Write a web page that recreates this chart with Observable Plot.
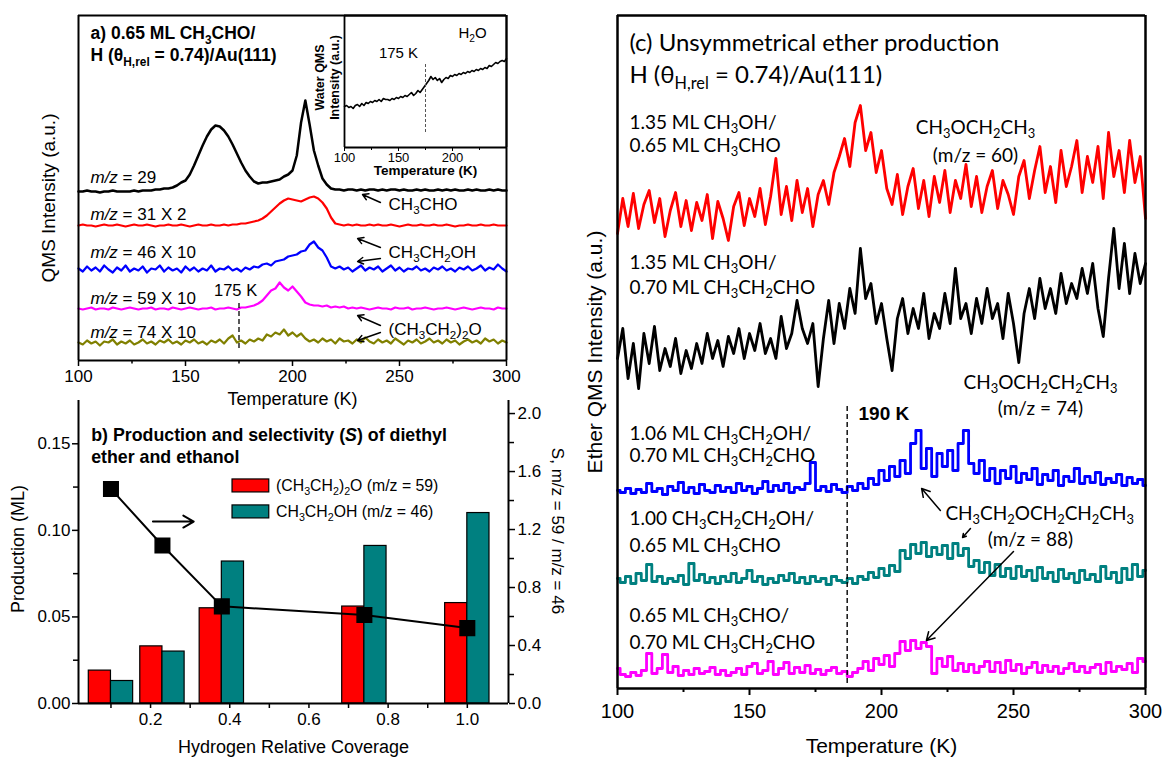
<!DOCTYPE html>
<html><head><meta charset="utf-8">
<script src="https://cdn.jsdelivr.net/npm/d3@7"></script>
<script src="https://cdn.jsdelivr.net/npm/@observablehq/plot@0.6"></script>
<style>
html,body{margin:0;padding:0;background:#fff}
#fig{position:relative;width:1163px;height:761px;overflow:hidden;background:#fff}
</style></head><body><div id="fig"></div>
<script>
// ---------------- DATA ----------------
// temperature sampling grid (K)
const T = d3.range(100, 301, 2);
const waterT = d3.range(100, 251, 2);

// Panel (a): TPD traces (a.u., stacked as drawn)
const a_m29 = [169,169,170,169,169,168,169,169,170,169, 169,169,169,170,169,170,170,170,171,171,
  172,172,173,175,178,180,186,195,205,215, 224,231,235,234,230,224,216,207,198,190,
  184,179,177,178,178,179,180,181,184,186, 190,205,238,260,236,210,195,182,176,172,
  171,171,170,171,171,170,171,170,171,171, 170,171,170,171,171,170,171,170,170,171,
  170,171,170,170,171,170,171,170,171,170, 170,171,170,171,170,170,171,170,171,170, 170];
const a_m31 = [135,136,135,135,134,135,136,135,135,136, 135,134,135,136,135,135,136,135,134,135,
  135,136,135,135,136,135,134,135,136,135, 135,136,135,135,136,135,136,136,137,137,
  138,139,140,142,145,149,153,157,160,162, 161,160,159,161,163,164,162,158,152,143,
  137,136,135,136,135,136,135,135,136,135, 136,135,135,136,135,134,135,136,135,135,
  136,135,135,136,135,135,136,135,134,135, 135,136,135,135,136,135,135,136,135,135, 135];
const a_m46 = [92,89,94,90,93,89,95,91,88,93, 90,95,89,92,90,94,88,92,91,95,
  89,93,90,92,88,94,90,93,89,92, 90,95,89,92,91,94,90,92,89,93,
  91,94,93,96,97,95,99,100,101,104, 105,106,109,110,116,119,113,110,103,94,
  92,94,91,93,89,92,95,90,93,91, 94,89,92,95,90,93,89,92,91,94,
  90,92,89,93,91,94,90,92,89,93, 91,94,90,92,95,90,93,91,96,92, 89];
const a_m59 = [52,51,52,53,51,52,52,51,53,52, 51,52,53,52,51,52,52,53,51,52,
  52,51,53,52,51,52,53,52,51,52, 52,53,51,52,52,53,52,51,53,53,
  54,55,57,60,65,70,72,78,73,70, 74,69,64,58,56,55,55,54,55,53,
  54,53,54,52,53,52,53,52,51,52, 53,52,52,51,53,52,52,53,51,52,
  52,53,52,51,52,52,53,52,51,52, 53,52,51,52,53,52,52,51,53,52, 52];
const a_m74 = [18,16,20,17,19,15,19,18,21,16, 19,17,20,16,18,21,17,19,16,20,
  18,21,17,19,16,20,18,21,17,19, 16,20,18,21,17,22,25,18,20,17,
  21,19,22,20,26,24,28,26,31,25, 28,24,27,22,19,21,18,22,19,21,
  17,22,19,20,17,21,18,23,19,17, 21,18,20,17,22,19,16,20,18,21,
  17,19,22,18,20,17,21,18,20,16, 19,21,18,20,17,22,19,21,17,20, 18];
// inset: water QMS signal
const water = [41,42,40,41,39,42,43,41,44,42, 45,44,46,45,47,46,48,46,49,48,
  48,47,49,48,50,49,51,50,52,51, 53,55,52,54,57,55,58,61,64,67,
  71,68,70,67,69,65,68,70,69,72, 71,73,72,74,73,75,74,76,75,77,
  76,78,77,79,78,80,79,82,81,83, 85,84,86,87,86,89];

// Panel (b): production and selectivity
const coverage   = [0.10, 0.23, 0.38, 0.74, 1.00];
const etherProd  = [0.019, 0.033, 0.055, 0.056, 0.058];
const ethanolProd= [0.013, 0.030, 0.082, 0.091, 0.110];
const selectivity= [1.48, 1.09, 0.67, 0.61, 0.52];

// Panel (c): ether QMS traces (a.u., stacked as drawn)
const c_m60 = [455,490,462,495,460,484,498,466,490,452, 478,496,462,488,458,486,468,494,450,487,
  470,448,482,496,463,490,472,500,464,492, 530,474,502,468,508,476,500,462,494,508,
  484,516,532,550,522,566,583,538,556,516, 538,500,484,514,474,502,520,480,508,472,
  512,486,518,476,508,490,524,482,512,476, 502,518,480,508,494,474,512,528,490,518,
  542,496,522,486,538,502,522,548,496,532, 506,542,490,556,512,538,496,548,506,532, 470];
const c_m74 = [330,360,310,345,300,355,325,362,318,340, 322,350,315,338,320,345,325,355,330,348,
  322,352,335,360,330,355,338,365,335,350, 330,372,340,355,388,360,345,365,302,350,
  388,345,385,360,400,375,440,390,405,365, 385,350,318,370,390,355,380,360,395,350,
  375,360,395,365,420,370,385,355,390,365, 400,370,385,350,395,365,326,375,400,370,
  410,380,400,375,415,385,405,390,420,395, 425,380,352,410,460,400,445,395,435,405, 425];
const c_m88a = [198,196,200,195,199,196,205,197,200,194, 202,198,206,196,201,195,204,198,196,203,
  197,201,196,205,198,202,195,200,207,197, 203,198,205,196,201,199,205,226,198,202,
  197,204,199,196,202,198,205,200,210,204, 218,208,222,212,228,215,245,258,220,240,
  212,235,222,238,218,245,258,225,215,228, 208,220,205,218,210,222,206,215,209,220,
  204,214,208,218,203,212,207,220,205,212, 206,216,204,210,206,214,203,211,205,209, 203];
const c_m88b = [110,106,112,105,115,108,124,107,112,105, 110,107,113,104,125,108,114,106,111,105,
  112,107,115,106,110,118,107,112,104,110, 106,113,108,115,106,111,105,112,107,110,
  104,112,108,106,110,105,112,109,116,111, 120,113,123,117,138,130,144,135,146,132,
  141,134,143,130,145,133,140,122,128,116, 126,113,124,112,120,110,122,112,118,108,
  121,110,116,107,119,110,115,106,118,109, 114,107,122,110,116,106,120,109,124,112, 118];
const c_m88c = [20,14,12,16,13,18,35,15,20,34, 16,22,13,18,14,20,15,17,21,14,
  18,13,16,20,14,22,25,15,18,27, 14,20,26,15,21,16,23,15,19,14,
  18,21,15,17,12,16,20,27,18,30, 24,33,22,35,47,38,48,40,46,42,
  15,30,22,32,18,25,17,24,16,22, 27,17,26,16,28,18,24,15,21,26,
  16,23,17,22,15,20,25,17,22,16, 21,24,15,26,17,22,19,25,16,30, 27];
const c_onsetT = 187; // dashed onset marker

// ---------------- HELPERS ----------------
const fig = document.getElementById("fig");
const pts = (xs, ys) => xs.map((x, i) => ({x, y: ys[i]})).filter(d => d.y != null);
const baseStyle = {fontFamily: "'Liberation Sans', Arial, Helvetica, sans-serif",
  background: "transparent", overflow: "visible", color: "#000"};
const NS = "http://www.w3.org/2000/svg";
function convert(el) {
  const s = el.textContent;
  if (!/_\{|\*/.test(s)) return;
  const fs = parseFloat(getComputedStyle(el).fontSize) || 16;
  el.textContent = "";
  const re = /_\{([^}]*)\}|\*([^*]+)\*|([^_*]+)/g;
  let m, shifted = false;
  while ((m = re.exec(s))) {
    const ts = document.createElementNS(NS, "tspan");
    if (m[1] !== undefined) {
      ts.textContent = m[1];
      ts.setAttribute("font-size", (fs * 0.68).toFixed(1));
      if (!shifted) { ts.setAttribute("dy", (fs * 0.25).toFixed(1)); shifted = true; }
    } else {
      ts.textContent = m[2] !== undefined ? m[2] : m[3];
      if (m[2] !== undefined) ts.setAttribute("font-style", "italic");
      if (shifted) { ts.setAttribute("dy", (-fs * 0.25).toFixed(1)); shifted = false; }
    }
    el.appendChild(ts);
  }
}
function richText(root) {
  root.querySelectorAll("text").forEach(t => {
    if (t.children.length) t.querySelectorAll("tspan").forEach(convert);
    else convert(t);
  });
}
function place(el, left, top) {
  el.style.position = "absolute";
  el.style.left = left + "px";
  el.style.top = top + "px";
  fig.appendChild(el);
  richText(el);
  return el;
}
const txt = (arr, opts) => Plot.text(arr, {x: "x", y: "y", text: "t", ...opts});
const box = (xd, yd, w) => [
  Plot.ruleX(xd, {stroke: "#000", strokeWidth: w}),
  Plot.ruleY(yd, {stroke: "#000", strokeWidth: w})
];

// ---------------- PANEL A ----------------
const seriesA = [
  {v: a_m29, c: "#000000", w: 2.5},
  {v: a_m31, c: "#ff0000", w: 2.2},
  {v: a_m46, c: "#0000ff", w: 2.2},
  {v: a_m59, c: "#ff00ff", w: 2.2},
  {v: a_m74, c: "#808000", w: 2.2}
];
const plotA = Plot.plot({
  width: 520, height: 420, marginLeft: 78, marginRight: 14, marginTop: 15, marginBottom: 60,
  x: {domain: [100, 300]}, y: {domain: [0, 345], axis: null},
  style: baseStyle,
  marks: [
    ...seriesA.map(s => Plot.line(pts(T, s.v), {x: "x", y: "y", stroke: s.c, strokeWidth: s.w})),
    ...box([100, 300], [0, 345], 2),
    Plot.axisX([100, 150, 200, 250, 300], {tickSize: 6, tickPadding: 3, fontSize: 17, label: null, strokeWidth: 1.5}),
    Plot.axisX([125, 175, 225, 275], {tickSize: 3.5, tickFormat: () => "", label: null, strokeWidth: 1.5}),
    Plot.text(["Temperature (K)"], {frameAnchor: "bottom", dy: 44, fontSize: 18}),
    Plot.text(["QMS Intensity (a.u.)"], {frameAnchor: "left", textAnchor: "middle", rotate: -90, dx: -30, dy: 10, fontSize: 19}),
    Plot.ruleX([175], {y1: 12, y2: 57, stroke: "#000", strokeWidth: 1.3, strokeDasharray: "5,3"}),
    txt([{x: 105.6, y: 327, t: "a) 0.65 ML CH_{3}CHO/"}, {x: 105.6, y: 305, t: "H (θ_{H,rel} = 0.74)/Au(111)"}],
        {textAnchor: "start", fontSize: 17.5, fontWeight: "bold"}),
    txt([{x: 105.6, y: 183, t: "*m/z* = 29"}, {x: 105.6, y: 146, t: "*m/z* = 31 X 2"},
         {x: 105.6, y: 108, t: "*m/z* = 46 X 10"}, {x: 105.6, y: 62, t: "*m/z* = 59 X 10"},
         {x: 105.6, y: 28, t: "*m/z* = 74 X 10"},
         {x: 244.9, y: 156, t: "CH_{3}CHO"}, {x: 244.9, y: 108, t: "CH_{3}CH_{2}OH"},
         {x: 244.9, y: 31, t: "(CH_{3}CH_{2})_{2}O"}],
        {textAnchor: "start", fontSize: 17}),
    txt([{x: 173.4, y: 70, t: "175 K"}], {textAnchor: "middle", fontSize: 16.5}),
    Plot.arrow([
      {x1: 241.1, y1: 158, x2: 232.7, y2: 166},
      {x1: 241.1, y1: 113, x2: 230.4, y2: 122},
      {x1: 241.1, y1: 102, x2: 230.4, y2: 99},
      {x1: 241.1, y1: 35, x2: 230.4, y2: 45},
      {x1: 241.1, y1: 28, x2: 230.4, y2: 20}
    ], {x1: "x1", y1: "y1", x2: "x2", y2: "y2", stroke: "#000", strokeWidth: 1.4, headLength: 7})
  ]
});
place(plotA, 0, 0);

// Inset
const plotInset = Plot.plot({
  width: 230, height: 190, marginLeft: 54, marginRight: 14, marginTop: 15, marginBottom: 43,
  x: {domain: [100, 250]}, y: {domain: [0, 132], axis: null},
  style: baseStyle,
  marks: [
    Plot.line(pts(waterT, water), {x: "x", y: "y", stroke: "#000", strokeWidth: 1.6}),
    ...box([100, 250], [0, 132], 1.8),
    Plot.axisX([100, 150, 200], {tickSize: 4, tickPadding: 1, fontSize: 13, label: null}),
    Plot.axisX([125, 175, 225], {tickSize: 3, tickFormat: () => "", label: null}),
    Plot.ruleX([175], {y1: 15, y2: 85, stroke: "#555", strokeWidth: 1, strokeDasharray: "3,2"}),
    txt([{x: 150, y: 94, t: "175 K"}, {x: 218.5, y: 114, t: "H_{2}O"}], {textAnchor: "middle", fontSize: 15}),
    Plot.text(["Temperature (K)"], {frameAnchor: "bottom", dy: 27, fontSize: 13.5, fontWeight: "bold"}),
    Plot.text(["Water QMS"], {frameAnchor: "left", textAnchor: "middle", rotate: -90, dx: -25, dy: -4, fontSize: 12.5, fontWeight: "bold"}),
    Plot.text(["Intensity (a.u.)"], {frameAnchor: "left", textAnchor: "middle", rotate: -90, dx: -10, dy: -4, fontSize: 12.5, fontWeight: "bold"})
  ]
});
place(plotInset, 290, 0);

// ---------------- PANEL B ----------------
const bw = 0.056;
const barsB = coverage.map((c, i) => ({c, ether: etherProd[i], ethanol: ethanolProd[i], s: selectivity[i]}));
const xDomB = [0.018, 1.104];
const dimsB = {width: 580, height: 381, marginLeft: 78, marginRight: 72, marginTop: 20, marginBottom: 58};
const plotB = Plot.plot({
  ...dimsB,
  x: {domain: xDomB}, y: {domain: [0, 0.175]},
  style: baseStyle,
  marks: [
    Plot.rectY(barsB, {x1: d => d.c - bw, x2: d => d.c, y: "ether", fill: "#ff0000", stroke: "#000", strokeWidth: 1.2}),
    Plot.rectY(barsB, {x1: d => d.c, x2: d => d.c + bw, y: "ethanol", fill: "#008080", stroke: "#000", strokeWidth: 1.2}),
    Plot.ruleX([xDomB[0]], {stroke: "#000", strokeWidth: 2}),
    Plot.ruleY([0], {stroke: "#000", strokeWidth: 2}),
    Plot.axisX([0.2, 0.4, 0.6, 0.8, 1.0], {tickSize: 5, tickPadding: 4, fontSize: 17, tickFormat: d3.format(".1f"), label: null, strokeWidth: 1.5}),
    Plot.axisX([0.1, 0.3, 0.5, 0.7, 0.9], {tickSize: 5, tickFormat: () => "", label: null, strokeWidth: 1.5}),
    Plot.axisY([0, 0.05, 0.10, 0.15], {tickSize: 6, tickPadding: 2, fontSize: 17, tickFormat: d3.format(".2f"), label: null, strokeWidth: 1.5}),
    Plot.axisY([0.025, 0.075, 0.125], {tickSize: 5, tickFormat: () => "", label: null, strokeWidth: 1.5}),
    Plot.text(["Hydrogen Relative Coverage"], {frameAnchor: "bottom", dy: 49, fontSize: 18}),
    Plot.text(["Production (ML)"], {frameAnchor: "left", textAnchor: "middle", rotate: -90, dx: -60, dy: -3, fontSize: 18}),
    txt([{x: 0.05, y: 0.1548, t: "b) Production and selectivity (*S*) of diethyl"},
         {x: 0.05, y: 0.1421, t: "ether and ethanol"}],
        {textAnchor: "start", fontSize: 17.8, fontWeight: "bold"}),
    Plot.rect([{x1: 0.407, x2: 0.4998, y1: 0.1219, y2: 0.1294}], {x1: "x1", x2: "x2", y1: "y1", y2: "y2", fill: "#ff0000", stroke: "#000", strokeWidth: 1.2}),
    Plot.rect([{x1: 0.407, x2: 0.4998, y1: 0.1069, y2: 0.1144}], {x1: "x1", x2: "x2", y1: "y1", y2: "y2", fill: "#008080", stroke: "#000", strokeWidth: 1.2}),
    txt([{x: 0.517, y: 0.1256, t: "(CH_{3}CH_{2})_{2}O (m/z = 59)"}, {x: 0.517, y: 0.1106, t: "CH_{3}CH_{2}OH (m/z = 46)"}],
        {textAnchor: "start", fontSize: 15.8}),
    Plot.arrow([{x1: 0.206, x2: 0.309, y: 0.1051}], {x1: "x1", x2: "x2", y1: "y", y2: "y", stroke: "#000", strokeWidth: 2, headLength: 9})
  ]
});
place(plotB, 0, 380);

const plotS = Plot.plot({
  ...dimsB,
  x: {domain: xDomB, axis: null}, y: {domain: [0, 2.09]},
  style: baseStyle,
  marks: [
    Plot.line(barsB, {x: "c", y: "s", stroke: "#000", strokeWidth: 2}),
    Plot.dot(barsB, {x: "c", y: "s", symbol: "square", r: 8.2, fill: "#000", stroke: "#000"}),
    Plot.ruleX([xDomB[1]], {stroke: "#000", strokeWidth: 2}),
    Plot.axisY([0, 0.4, 0.8, 1.2, 1.6, 2.0], {anchor: "right", tickSize: 6, tickPadding: 3, fontSize: 17, tickFormat: d3.format(".1f"), label: null, strokeWidth: 1.5}),
    Plot.axisY([0.2, 0.6, 1.0, 1.4, 1.8], {anchor: "right", tickSize: 5, tickFormat: () => "", label: null, strokeWidth: 1.5}),
    Plot.text(["S, m/z = 59 / m/z = 46"], {frameAnchor: "right", textAnchor: "middle", rotate: 90, dx: 49, dy: -21, fontSize: 17})
  ]
});
place(plotS, 0, 380);

// ---------------- PANEL C ----------------
const seriesC = [
  {v: c_m60, c: "#ff0000", curve: "linear"},
  {v: c_m74, c: "#000000", curve: "linear"},
  {v: c_m88a, c: "#0000ff", curve: "step"},
  {v: c_m88b, c: "#008080", curve: "step"},
  {v: c_m88c, c: "#ff00ff", curve: "step"}
];
const lato = "Lato, 'Open Sans', sans-serif";
const plotC = Plot.plot({
  width: 603, height: 761, marginLeft: 57, marginRight: 18, marginTop: 15, marginBottom: 73,
  x: {domain: [100, 300]}, y: {domain: [0, 673], axis: null},
  style: baseStyle,
  marks: [
    ...seriesC.map(s => Plot.line(pts(T, s.v), {x: "x", y: "y", stroke: s.c, strokeWidth: 2.8, curve: s.curve})),
    ...box([100, 300], [0, 673], 2.5),
    Plot.axisX([100, 150, 200, 250, 300], {tickSize: 7, tickPadding: 8, fontSize: 20, label: null, strokeWidth: 2}),
    Plot.axisX([125, 175, 225, 275], {tickSize: 4, tickFormat: () => "", label: null, strokeWidth: 2}),
    Plot.text(["Temperature (K)"], {frameAnchor: "bottom", dy: 64, fontSize: 21}),
    Plot.text(["Ether QMS Intensity (a.u.)"], {frameAnchor: "left", textAnchor: "middle", rotate: -90, dx: -22, fontSize: 21}),
    Plot.ruleX([c_onsetT], {y1: 5, y2: 283, stroke: "#000", strokeWidth: 1.4, strokeDasharray: "5,3"}),
    txt([{x: 191.3, y: 275, t: "190 K"}], {textAnchor: "start", fontSize: 19, fontWeight: "bold"}),
    txt([{x: 104.5, y: 645, t: "(c) Unsymmetrical ether production"},
         {x: 104.5, y: 613, t: "H (θ_{H,rel} = 0.74)/Au(111)"}],
        {textAnchor: "start", fontSize: 24, fontFamily: lato}),
    txt([{x: 104.5, y: 566, t: "1.35 ML CH_{3}OH/"}, {x: 104.5, y: 543, t: "0.65 ML CH_{3}CHO"},
         {x: 104.5, y: 426, t: "1.35 ML CH_{3}OH/"}, {x: 104.5, y: 401, t: "0.70 ML CH_{3}CH_{2}CHO"},
         {x: 104.5, y: 255, t: "1.06 ML CH_{3}CH_{2}OH/"}, {x: 104.5, y: 233, t: "0.70 ML CH_{3}CH_{2}CHO"},
         {x: 104.5, y: 170, t: "1.00 CH_{3}CH_{2}CH_{2}OH/"}, {x: 104.5, y: 143, t: "0.65 ML CH_{3}CHO"},
         {x: 104.5, y: 73, t: "0.65 ML CH_{3}CHO/"}, {x: 104.5, y: 46, t: "0.70 ML CH_{3}CH_{2}CHO"},
         {x: 224.2, y: 175, t: "CH_{3}CH_{2}OCH_{2}CH_{2}CH_{3}"}],
        {textAnchor: "start", fontSize: 19, fontFamily: lato}),
    txt([{x: 235.6, y: 561, t: "CH_{3}OCH_{2}CH_{3}"}, {x: 235.6, y: 533, t: "(m/z = 60)"},
         {x: 260.2, y: 306, t: "CH_{3}OCH_{2}CH_{2}CH_{3}"}, {x: 260.2, y: 280, t: "(m/z = 74)"},
         {x: 256.4, y: 149, t: "(m/z = 88)"}],
        {textAnchor: "middle", fontSize: 19, fontFamily: lato}),
    Plot.arrow([
      {x1: 222.3, y1: 178, x2: 215.2, y2: 200},
      {x1: 233.7, y1: 160, x2: 230.7, y2: 151},
      {x1: 250, y1: 137, x2: 217, y2: 48}
    ], {x1: "x1", y1: "y1", x2: "x2", y2: "y2", stroke: "#000", strokeWidth: 1.5, headLength: 9})
  ]
});
place(plotC, 560, 0);
</script></body></html>
